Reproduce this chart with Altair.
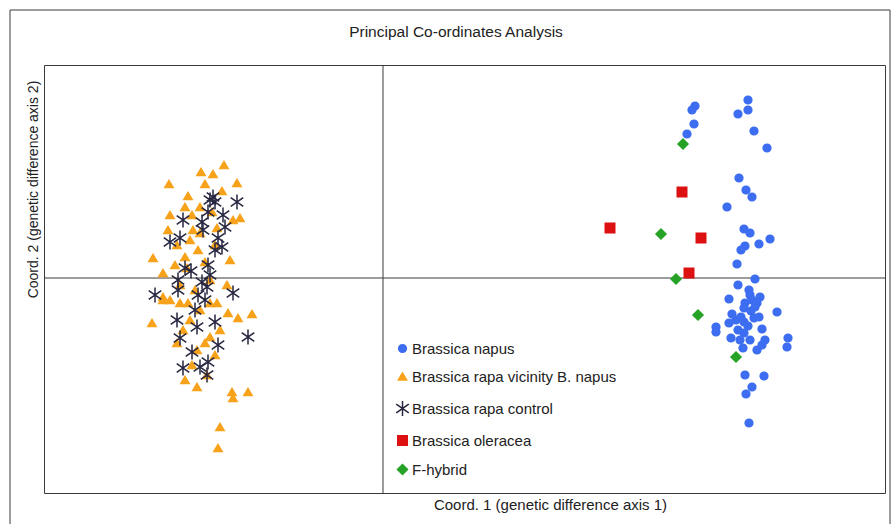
import altair as alt
import pandas as pd

TITLE = "Principal Co-ordinates Analysis"

# PCoA coordinates (Coord. 1, Coord. 2) per group
napus_x = [0.312, 0.309, 0.365, 0.365, 0.355, 0.311, 0.304, 0.371, 0.384, 0.356, 0.363, 0.369, 0.344, 0.361, 0.367, 0.387, 0.376, 0.362, 0.358, 0.354,
           0.372, 0.355, 0.366, 0.367, 0.377, 0.346, 0.362, 0.374, 0.369, 0.361, 0.368, 0.394, 0.349, 0.358, 0.371, 0.376, 0.361, 0.346, 0.333, 0.333,
           0.355, 0.379, 0.361, 0.348, 0.357, 0.367, 0.382, 0.405, 0.379, 0.404, 0.360, 0.374, 0.362, 0.381, 0.369, 0.363, 0.366, 0.353, 0.365, 0.372]
napus_y = [0.172, 0.168, 0.178, 0.168, 0.164, 0.154, 0.144, 0.147, 0.130, 0.100, 0.088, 0.081, 0.071, 0.049, 0.045, 0.039, 0.034, 0.032, 0.028, 0.014,
           -0.001, -0.007, -0.012, -0.017, -0.019, -0.021, -0.025, -0.025, -0.022, -0.030, -0.033, -0.034, -0.036, -0.039, -0.040, -0.039, -0.044, -0.045, -0.049, -0.054,
           -0.052, -0.051, -0.055, -0.060, -0.062, -0.062, -0.062, -0.060, -0.067, -0.069, -0.070, -0.072, -0.097, -0.098, -0.109, -0.116, -0.145, -0.042, -0.048, -0.029]

vicinity_x = [-0.159, -0.182, -0.170, -0.214, -0.178, -0.146, -0.195, -0.161, -0.198, -0.183, -0.213, -0.191, -0.171, -0.150, -0.143, -0.215, -0.190, -0.166, -0.206, -0.193,
              -0.183, -0.230, -0.198, -0.153, -0.220, -0.196, -0.156, -0.220, -0.220, -0.203, -0.195, -0.173, -0.166, -0.231, -0.155, -0.145, -0.131, -0.163, -0.193, -0.206,
              -0.178, -0.173, -0.186, -0.198, -0.186, -0.176, -0.150, -0.135, -0.151, -0.163, -0.165,
              -0.185, -0.178, -0.203, -0.188, -0.173, -0.208, -0.168, -0.183, -0.200, -0.168, -0.191, -0.213]
vicinity_y = [0.113, 0.106, 0.104, 0.094, 0.094, 0.095, 0.082, 0.087, 0.071, 0.071, 0.063, 0.063, 0.066, 0.058, 0.060, 0.048, 0.048, 0.050, 0.033, 0.038,
              0.045, 0.020, 0.021, 0.018, 0.005, 0.010, -0.007, -0.019, -0.022, -0.025, -0.025, -0.025, -0.025, -0.045, -0.035, -0.040, -0.036, -0.052, -0.042, -0.065,
              -0.065, -0.059, -0.072, -0.102, -0.109, -0.097, -0.120, -0.114, -0.114, -0.149, -0.170,
              0.028, 0.016, -0.007, -0.012, -0.002, 0.013, 0.033, -0.032, -0.052, -0.077, -0.087, -0.022]

control_x = [-0.173, -0.168, -0.146, -0.200, -0.181, -0.160, -0.158, -0.180, -0.213, -0.203, -0.165, -0.168, -0.161, -0.198, -0.175, -0.173, -0.205, -0.181, -0.176, -0.228,
             -0.150, -0.205, -0.185, -0.206, -0.186, -0.168, -0.203, -0.135, -0.191, -0.165, -0.200, -0.175, -0.176, -0.183, -0.170, -0.175, -0.192, -0.178, -0.188]
control_y = [0.078, 0.076, 0.076, 0.058, 0.056, 0.063, 0.051, 0.048, 0.036, 0.040, 0.040, 0.028, 0.031, 0.010, 0.013, 0.003, -0.002, -0.004, -0.009, -0.017,
             -0.015, -0.012, -0.017, -0.042, -0.049, -0.044, -0.060, -0.059, -0.074, -0.067, -0.090, -0.084, -0.097, -0.089, 0.081, 0.066, 0.007, -0.022, -0.032]

oleracea_x = [0.227, 0.299, 0.318, 0.306]
oleracea_y = [0.050, 0.086, 0.040, 0.005]

hybrid_x = [0.300, 0.278, 0.293, 0.315, 0.353]
hybrid_y = [0.134, 0.044, -0.001, -0.037, -0.079]

groups = ["Brassica napus", "Brassica rapa vicinity B. napus", "Brassica rapa control", "Brassica oleracea", "F-hybrid"]
colors = ["#3d6df0", "#f7a21b", "#262640", "#dd1111", "#26a326"]
shapes = ["circle", "triangle-up", "M0,-1.7L0,1.7M-1.4,-1L1.4,1M-1.4,1L1.4,-1", "square", "diamond"]
sizes = [60, 100, 60, 150, 70]

rows = []
for g, xs, ys in zip(groups, [napus_x, vicinity_x, control_x, oleracea_x, hybrid_x],
                     [napus_y, vicinity_y, control_y, oleracea_y, hybrid_y]):
    for xv, yv in zip(xs, ys):
        rows.append({"c1": xv, "c2": yv, "group": g})
df = pd.DataFrame(rows)

FONT = "Liberation Sans"
xscale = alt.Scale(domain=[-0.339, 0.502], nice=False, zero=False)
yscale = alt.Scale(domain=[-0.215, 0.213], nice=False, zero=False)

one = pd.DataFrame({"a": [0]})

frame = alt.Chart(one).mark_rect(fill=None, stroke="#3a3a3a", strokeWidth=1).encode(
    x=alt.value(-34), x2=alt.value(846), y=alt.value(-55), y2=alt.value(520)
)

title_text = alt.Chart(one).mark_text(
    text=TITLE, font=FONT, fontSize=15.5, color="#222222", align="center", baseline="bottom"
).encode(x=alt.value(412), y=alt.value(-25))

vline = alt.Chart(one).mark_rule(color="#3a3a3a", strokeWidth=1).encode(x=alt.datum(0, scale=xscale))
hline = alt.Chart(one).mark_rule(color="#3a3a3a", strokeWidth=1).encode(y=alt.datum(0, scale=yscale))

legend = alt.Legend(
    title=None, orient="none", legendX=351, legendY=276, padding=0,
    labelFont=FONT, labelFontSize=15, labelColor="#222222", rowPadding=12,
    labelOffset=2, symbolStrokeWidth=1.5, labelLimit=0,
)

points = alt.Chart(df).mark_point(filled=True, opacity=1, strokeWidth=1.5).encode(
    x=alt.X("c1:Q", scale=xscale,
            axis=alt.Axis(title="Coord. 1 (genetic difference axis 1)", domain=False, ticks=False, labels=False, grid=False,
                          titleX=506, titleY=4, titleBaseline="top", titleFont=FONT, titleFontSize=15,
                          titleFontWeight="normal", titleColor="#222222")),
    y=alt.Y("c2:Q", scale=yscale,
            axis=alt.Axis(title="Coord. 2 (genetic difference axis 2)", domain=False, ticks=False, labels=False, grid=False,
                          titleX=-4, titleY=124, titleBaseline="bottom", titleFont=FONT, titleFontSize=14,
                          titleFontWeight="normal", titleColor="#222222")),
    color=alt.Color("group:N", scale=alt.Scale(domain=groups, range=colors), legend=legend),
    stroke=alt.Stroke("group:N", scale=alt.Scale(domain=groups, range=colors), legend=legend),
    shape=alt.Shape("group:N", scale=alt.Scale(domain=groups, range=shapes), legend=legend),
    size=alt.Size("group:N", scale=alt.Scale(domain=groups, range=sizes), legend=legend),
)

chart = alt.layer(frame, title_text, vline, hline, points).properties(
    width=841, height=428,
    padding={"left": 44, "top": 65, "right": 6, "bottom": 31},
    autosize=alt.AutoSizeParams(type="none"),
    background="white",
).configure_view(stroke="#3a3a3a", strokeWidth=1)

chart.save("out.html", embed_options={"renderer": "svg", "actions": False})
